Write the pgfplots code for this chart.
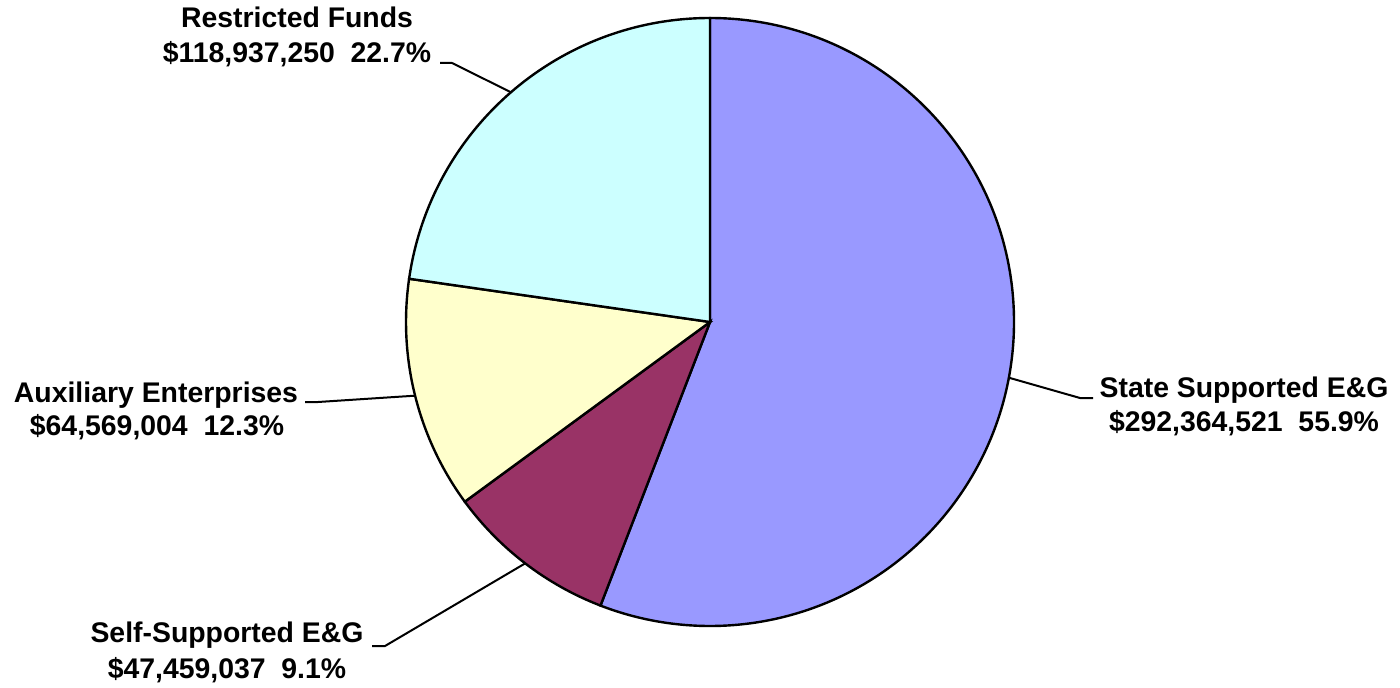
\documentclass[border=0pt]{standalone}
\usepackage{pgfplots}
\pgfplotsset{compat=1.18}
\usepackage{fontspec}
\setmainfont{Liberation Sans}
\definecolor{cState}{HTML}{9999FF}
\definecolor{cSelf}{HTML}{993366}
\definecolor{cAux}{HTML}{FFFFCC}
\definecolor{cRes}{HTML}{CCFFFF}
% data (dollars)
\def\vA{292364521}% State Supported E&G
\def\vB{47459037}% Self-Supported E&G
\def\vC{64569004}% Auxiliary Enterprises
\def\vD{118937250}% Restricted Funds
\edef\tot{\fpeval{\vA+\vB+\vC+\vD}}
\edef\aA{90}
\edef\aB{\fpeval{90-360*\vA/\tot}}
\edef\aC{\fpeval{\aB-360*\vB/\tot}}
\edef\aD{\fpeval{\aC-360*\vC/\tot}}
\edef\aE{-270}
\edef\mA{\fpeval{(\aA+\aB)/2}}
\edef\mB{\fpeval{(\aB+\aC)/2}}
\edef\mC{\fpeval{(\aC+\aD)/2}}
\edef\mD{\fpeval{(\aD+\aE)/2}}
\begin{document}
\begin{tikzpicture}
\begin{axis}[
  scale only axis, width=700pt, height=343.5pt,
  xmin=0, xmax=1400, ymin=0, ymax=687,
  hide axis, clip=false]
\path (rel axis cs:0,0) rectangle (rel axis cs:1,1);
\def\R{152pt}
\filldraw[fill=cState, draw=black, line width=1.2pt] (axis cs:710,365) -- ++(\aA:\R) arc[start angle=\aA, end angle=\aB, radius=\R] -- cycle;
\filldraw[fill=cSelf, draw=black, line width=1.2pt] (axis cs:710,365) -- ++(\aB:\R) arc[start angle=\aB, end angle=\aC, radius=\R] -- cycle;
\filldraw[fill=cAux, draw=black, line width=1.2pt] (axis cs:710,365) -- ++(\aC:\R) arc[start angle=\aC, end angle=\aD, radius=\R] -- cycle;
\filldraw[fill=cRes, draw=black, line width=1.2pt] (axis cs:710,365) -- ++(\aD:\R) arc[start angle=\aD, end angle=\aE, radius=\R] -- cycle;
% leader lines
\draw[line width=1pt] (axis cs:710,365) ++(\mA:\R) -- (axis cs:1080,289) -- (axis cs:1093,289);
\draw[line width=1pt] (axis cs:710,365) ++(\mB:\R) -- (axis cs:385,41) -- (axis cs:372,41);
\draw[line width=1pt] (axis cs:710,365) ++(\mC:\R) -- (axis cs:318,285) -- (axis cs:305,285);
\draw[line width=1pt] (axis cs:710,365) ++(\mD:\R) -- (axis cs:452,624) -- (axis cs:440,624);
% labels
\tikzset{lab/.style={anchor=base, inner sep=0pt, font=\fontsize{14.2pt}{17pt}\selectfont\bfseries}}
\node[lab] at (axis cs:1244,290) {State Supported E\&G};
\node[lab] at (axis cs:1244,256) {\$292,364,521\ \ 55.9\%};
\node[lab] at (axis cs:156,285) {Auxiliary Enterprises};
\node[lab] at (axis cs:157,252) {\$64,569,004\ \ 12.3\%};
\node[lab] at (axis cs:227,45) {Self-Supported E\&G};
\node[lab] at (axis cs:227,9) {\$47,459,037\ \ 9.1\%};
\node[lab] at (axis cs:297,659) {Restricted Funds};
\node[lab] at (axis cs:297,624) {\$118,937,250\ \ 22.7\%};
\end{axis}
\end{tikzpicture}
\end{document}
